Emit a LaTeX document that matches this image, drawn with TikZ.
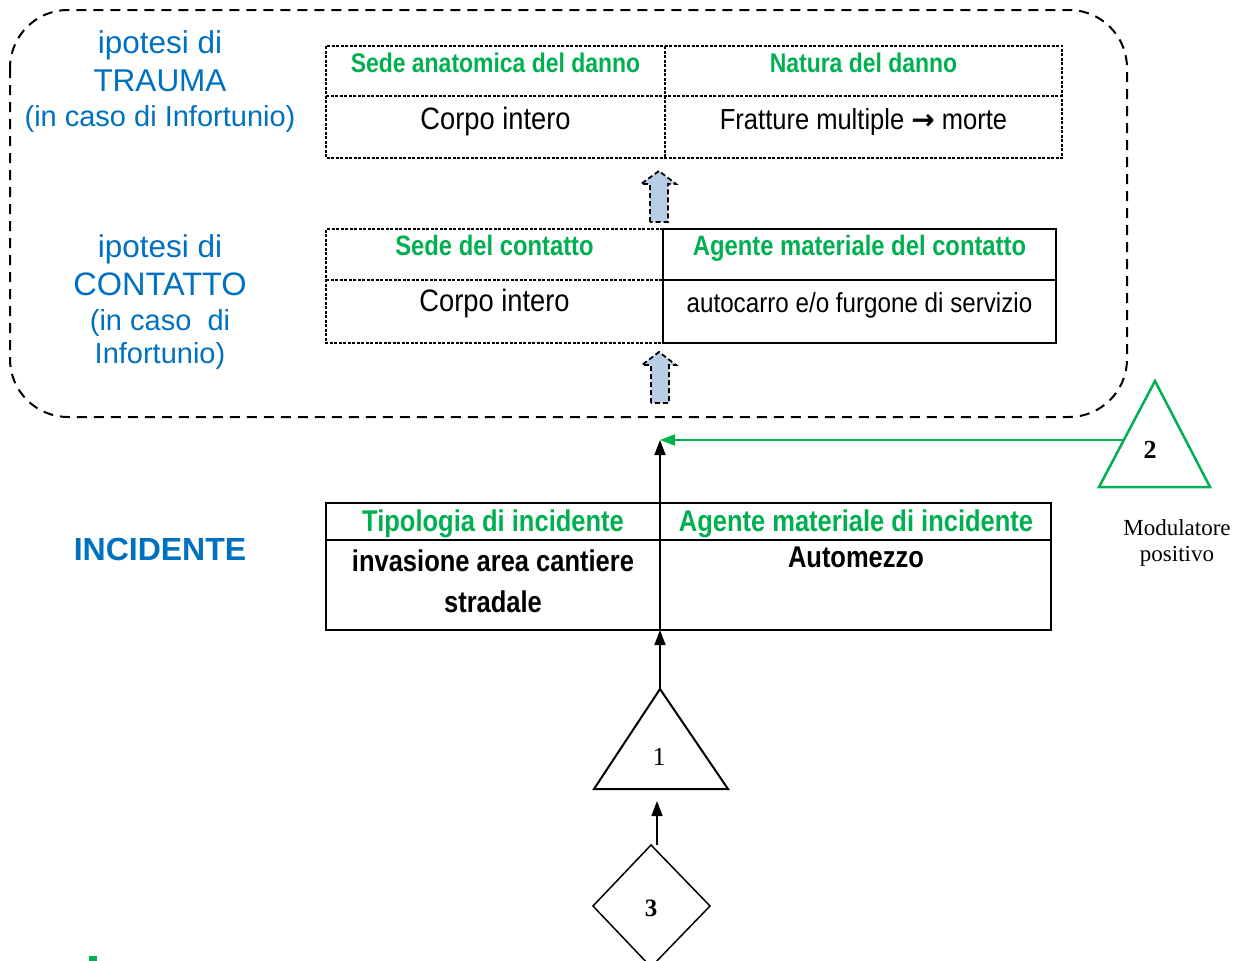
\documentclass[tikz,border=0pt]{standalone}
\usepackage{fontspec}
\setmainfont{Liberation Sans}
\newfontfamily\condfont[FakeStretch=0.88]{Liberation Sans}
\newfontfamily\condbold[FakeStretch=0.85]{Liberation Sans Bold}
\newfontfamily\seriffont{Liberation Serif}
\newfontfamily\symfont{DejaVu Sans}
\usetikzlibrary{arrows.meta}
\definecolor{myblue}{HTML}{0070C0}
\definecolor{mygreen}{HTML}{00B050}
\definecolor{arrowfill}{HTML}{B9CDE5}
\tikzset{
  tdash/.style={line width=1.3pt, dash pattern=on 3pt off 1.5pt},
  tsolid/.style={line width=1.6pt},
  arr/.style={line width=1.5pt, -{Triangle[length=15pt,width=11pt]}},
  garr/.style={line width=2pt, draw=mygreen, -{Triangle[length=15pt,width=11pt]}},
  blockarr/.style={fill=arrowfill, line width=1.8pt, dash pattern=on 5pt off 3pt},
  bluelbl/.style={text=myblue, anchor=base, inner sep=0pt, font=\fontsize{31.5}{36}\selectfont},
  bluesmall/.style={text=myblue, anchor=base, inner sep=0pt, font=\fontsize{29}{34}\selectfont},
  hdr/.style={text=mygreen, anchor=base, inner sep=0pt},
  body/.style={anchor=base, inner sep=0pt, font=\condfont\fontsize{31}{34}\selectfont},
  bbody/.style={anchor=base, inner sep=0pt, font=\condbold\fontsize{30}{34}\selectfont},
  numlbl/.style={inner sep=0pt, font=\seriffont\fontsize{26}{28}\selectfont},
  serlbl/.style={anchor=base, inner sep=0pt, font=\seriffont\fontsize{23}{27}\selectfont},
}
\begin{document}
\begin{tikzpicture}[x=1pt,y=-1pt]
\useasboundingbox (0,0) rectangle (1240,961);

% dashed rounded container
\draw[line width=2pt, dash pattern=on 10pt off 7pt, rounded corners=58pt] (10,10) rectangle (1127,417);

% left labels
\node[bluelbl] (l1) at (160,53) {ipotesi di};
\node[bluelbl] (l2) at (160,91) {TRAUMA};
\node[bluesmall] (l3) at (160,126) {(in caso di Infortunio)};
\node[bluelbl] (l4) at (160,257) {ipotesi di};
\node[bluelbl, font=\fontsize{32.5}{36}\selectfont] (l5) at (160,295) {CONTATTO};
\node[bluesmall] (l6) at (160,330) {(in caso\ \ di};
\node[bluesmall] (l7) at (160,363) {Infortunio)};
\node[text=myblue, anchor=base, inner sep=0pt, font=\bfseries\fontsize{32}{36}\selectfont] (inc) at (160,560) {INCIDENTE};

% table 1 (trauma)
\draw[tdash] (326,46) rectangle (1062,158);
\draw[tdash] (326,96) -- (1062,96);
\draw[tdash] (665,46) -- (665,158);
\node[hdr, font=\condbold\fontsize{27}{30}\selectfont] (h11) at (495.5,72) {Sede anatomica del danno};
\node[hdr, font=\condbold\fontsize{27}{30}\selectfont] (h12) at (863.5,72) {Natura del danno};
\node[body] (b11) at (495.5,129) {Corpo intero};
\node[body, font=\condfont\fontsize{29}{34}\selectfont] (b12) at (863.5,129) {Fratture multiple {\symfont\fontsize{28}{30}\selectfont\bfseries →} morte};

% block arrow 1
\draw[blockarr] (650,222) -- (650,184) -- (641,184) -- (659,171) -- (676,184) -- (668,184) -- (668,222) -- cycle;

% table 2 (contatto)
\draw[tdash] (663,229) -- (326,229) -- (326,343) -- (663,343);
\draw[tdash] (326,280) -- (663,280);
\draw[tsolid] (663,229) rectangle (1056,343);
\draw[tsolid] (663,280) -- (1056,280);
\node[hdr, font=\condbold\fontsize{28}{30}\selectfont] (h21) at (494.5,255) {Sede del contatto};
\node[hdr, font=\condbold\fontsize{28}{30}\selectfont] (h22) at (859.5,255) {Agente materiale del contatto};
\node[body] (b21) at (494.5,311) {Corpo intero};
\node[body, font=\condfont\fontsize{27.5}{32}\selectfont] (b22) at (859.5,312) {autocarro e/o furgone di servizio};

% block arrow 2
\draw[blockarr] (651,403) -- (651,365) -- (642,365) -- (659,352) -- (676,365) -- (669,365) -- (669,403) -- cycle;

% table 3 (incidente)
\draw[tsolid] (326,503) rectangle (1051,630);
\draw[tsolid] (326,540) -- (1051,540);
\node[hdr, font=\condbold\fontsize{30}{34}\selectfont] (h31) at (493,531) {Tipologia di incidente};
\node[hdr, font=\condbold\fontsize{30}{34}\selectfont] (h32) at (856,531) {Agente materiale di incidente};
\node[bbody] (b31) at (493,571) {invasione area cantiere};
\node[bbody] (b32) at (493,612) {stradale};
\node[bbody] (b33) at (856,567) {Automezzo};

% triangle 1
\coordinate (t1apex) at (660,689);
\draw[line width=2pt, line join=miter] (t1apex) -- (728,789) -- (594,789) -- cycle;
\node[numlbl] (n1) at (659,757) {1};
\coordinate (t1base) at (657,801);

% diamond 3
\coordinate (d3top) at (657,845);
\draw[line width=1.5pt] (651,845) -- (710,906) -- (651,967) -- (593,906) -- cycle;
\node[numlbl, font=\seriffont\bfseries\fontsize{25}{28}\selectfont] (n3) at (651,908) {3};

% triangle 2
\coordinate (t2apex) at (1155,381);
\draw[line width=2.5pt, draw=mygreen, line join=miter] (t2apex) -- (1210,487) -- (1099,487) -- cycle;
\node[numlbl, font=\seriffont\bfseries\fontsize{26}{28}\selectfont] (n2) at (1150,450) {2};
\coordinate (t2left) at (1124,440);
\node[serlbl] (m1) at (1177,535) {Modulatore};
\node[serlbl] (m2) at (1177,561) {positivo};

% connectors
\coordinate (t3bot) at (660,630);
\coordinate (t3top) at (660,503);
\coordinate (join) at (660,440);
\draw[line width=1.5pt, -{Triangle[length=15pt,width=11pt]}] (d3top) -- (t1base);
\draw[arr] (t1apex) -- (t3bot);
\draw[line width=1.5pt] (t3bot) -- (t3top);
\draw[arr] (t3top) -- (join);
\draw[garr] (t2left) -- (join);

% small green mark
\fill[mygreen] (89,956) rectangle (97,961);
\end{tikzpicture}
\end{document}
